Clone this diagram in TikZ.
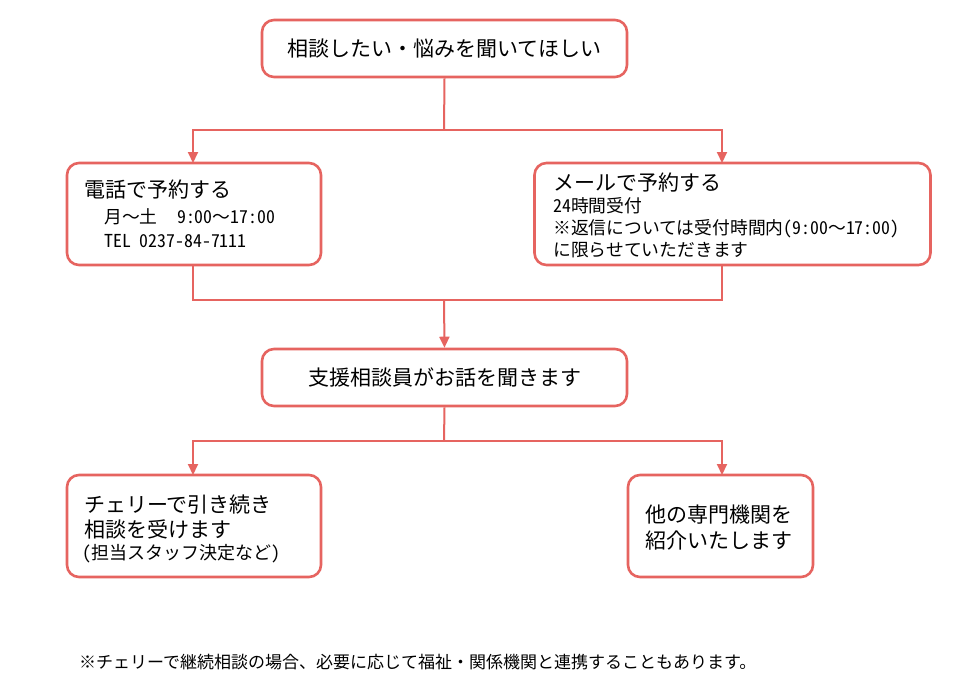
\documentclass[tikz,border=0pt]{standalone}
\usepackage{fontspec}
\setmainfont{Noto Sans CJK JP}
\newfontfamily\hwfont[RawFeature=+hwid]{Noto Sans CJK JP}
\newcommand{\hw}[1]{{\hwfont #1}}
\usetikzlibrary{arrows.meta}
\definecolor{boxred}{RGB}{230,100,96}
\tikzset{
  box/.style={draw=boxred, line width=2.6pt, rounded corners=12pt, fill=white, inner sep=0pt},
  conn/.style={draw=boxred, line width=2pt},
  arr/.style={conn, -{Triangle[width=10pt,length=11pt]}},
  big/.style={font=\fontsize{21}{25}\selectfont, inner sep=0pt},
  mid/.style={font=\fontsize{17.8}{21}\selectfont, inner sep=0pt, anchor=west},
  small/.style={font=\fontsize{17}{20}\selectfont, inner sep=0pt, anchor=west}
}
\begin{document}
\begin{tikzpicture}[x=1pt,y=-1pt]
\useasboundingbox[fill=white] (0,0) rectangle (980,689);
% boxes
\node[box, minimum width=365pt, minimum height=57pt] (top) at (444.5,48.5) {};
\node[box, minimum width=254pt, minimum height=102pt] (lbox) at (194,214) {};
\node[box, minimum width=396pt, minimum height=102pt] (rbox) at (732.5,214) {};
\node[box, minimum width=365pt, minimum height=57pt] (mbox) at (444.5,377.5) {};
\node[box, minimum width=254pt, minimum height=102pt] (blbox) at (194,526) {};
\node[box, minimum width=185pt, minimum height=102pt] (brbox) at (720.5,526) {};
% connector points
\coordinate (j1) at (444,130);
\coordinate (lin) at (193,163);
\coordinate (rin) at (722,163);
\coordinate (lout) at (193,265);
\coordinate (rout) at (722,265);
\coordinate (j2) at (444,300);
\coordinate (j3) at (444,441);
\coordinate (blin) at (193,475);
\coordinate (brin) at (722,475);
% connectors
\draw[conn] (top.south) -- (j1);
\draw[arr] (j1) -| (lin);
\draw[arr] (j1) -| (rin);
\draw[conn] (lout) |- (j2);
\draw[conn] (rout) |- (j2);
\draw[arr] (j2) -- (mbox.north);
\draw[conn] (mbox.south) -- (j3);
\draw[arr] (j3) -| (blin);
\draw[arr] (j3) -| (brin);
% texts
\node[big] (t1) at (top.center) {相談したい・悩みを聞いてほしい};
\node[big, anchor=west] (l1) at (84,190) {電話で予約する};
\node[mid] (l2) at (104,217) {月〜土\hspace{1.1em}\hw{9:00}〜\hw{17:00}};
\node[mid] (l3) at (104,241) {\hw{TEL 0237-84-7111}};
\node[big, anchor=west] (r1) at (553,183) {メールで予約する};
\node[mid] (r2) at (553,206) {\hw{24}時間受付};
\node[mid] (r3) at (553,229) {※返信については受付時間内\hw{(9:00}〜\hw{17:00)}};
\node[mid] (r4) at (553,250) {に限らせていただきます};
\node[big] (m1) at (mbox.center) {支援相談員がお話を聞きます};
\node[big, anchor=west] (b1) at (84,505) {チェリーで引き続き};
\node[big, anchor=west] (b2) at (84,529) {相談を受けます};
\node[mid, font=\fontsize{18}{21}\selectfont] (b3) at (82,554) {\hw{(}担当スタッフ決定など\hw{)}};
\node[big, anchor=west] (c1) at (645,515) {他の専門機関を};
\node[big, anchor=west] (c2) at (645,541) {紹介いたします};
\node[small] (foot) at (79,662) {※チェリーで継続相談の場合、必要に応じて福祉・関係機関と連携することもあります。};
\end{tikzpicture}
\end{document}
